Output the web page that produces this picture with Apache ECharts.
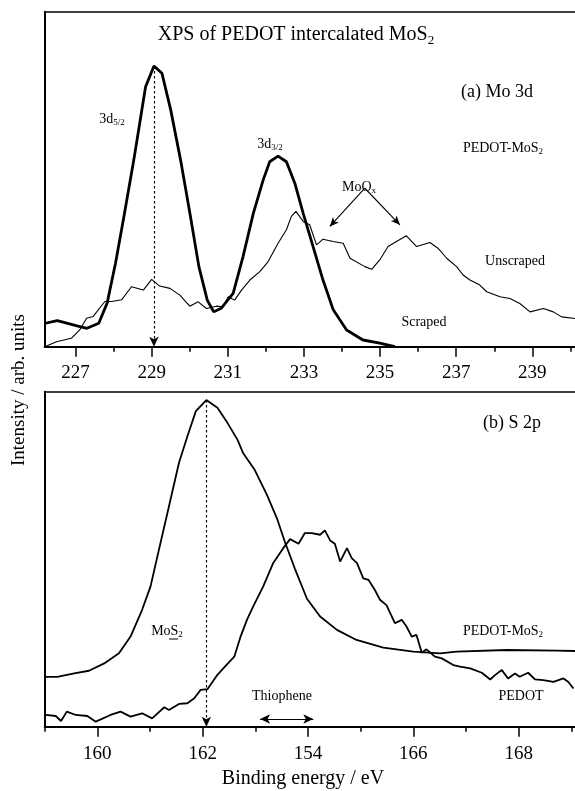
<!DOCTYPE html>
<html>
<head>
<meta charset="utf-8">
<script src="https://cdn.jsdelivr.net/npm/echarts@6/dist/echarts.min.js"></script>
<style>
html,body{margin:0;padding:0;background:#fff;}
#chart{width:575px;height:791px;}
</style>
</head>
<body>
<div id="chart"></div>
<script>
// ---- Panel (a) Mo 3d ----
const topTickValues = [227, 229, 231, 233, 235, 237, 239];
const topMinorTicks = [228, 230, 232, 234, 236, 238, 240];
const scrapedX = [226.21,226.52,227.04,227.30,227.61,227.83,228.05,228.27,228.53,228.84,229.06,229.27,229.50,229.76,230.02,230.24,230.46,230.63,230.83,231.14,231.40,231.67,231.93,232.10,232.32,232.54,232.76,232.98,233.24,233.50,233.77,234.12,234.55,234.99,235.39];
const scrapedY = [7.0,7.8,6.2,5.5,7.0,13.0,24.9,38.8,55.7,77.6,83.8,81.6,70.7,55.7,38.8,23.9,13.9,10.4,11.5,15.9,26.9,39.8,49.8,55.2,56.9,55.2,48.8,39.8,29.9,19.9,11.0,5.0,2.0,1.1,0];
const unscrapedX = [226.19,226.50,226.89,227.11,227.29,227.46,227.77,227.95,228.21,228.47,228.78,229.00,229.21,229.48,229.74,230.00,230.22,230.44,230.70,230.88,231.01,231.18,231.36,231.58,231.84,232.06,232.32,232.54,232.67,232.79,232.98,233.15,233.33,233.50,233.77,234.03,234.21,234.60,234.78,234.99,235.21,235.43,235.69,235.96,236.31,236.52,236.75,237.01,237.18,237.36,237.62,237.80,238.15,238.41,238.67,238.94,239.29,239.55,239.77,240.12];
const unscrapedY = [0,1.5,2.5,5.0,8.5,9.0,13.5,13.5,14.0,17.9,16.9,20.1,18.1,17.4,15.4,12.1,13.4,11.4,12.1,11.9,14.9,13.9,16.9,19.9,22.4,25.4,30.9,34.9,38.9,40.4,37.4,36.4,30.4,32.1,31.4,30.9,26.4,23.9,23.1,25.9,29.9,31.4,33.1,29.9,31.1,29.4,26.4,23.9,21.4,19.9,18.4,16.4,14.9,14.4,12.9,10.4,11.4,10.4,8.9,8.4];

// ---- Panel (b) S 2p ----
const botTickValues = [160, 162, 164, 166, 168];
const botTickLabels = ['160', '162', '154', '166', '168'];
const botMinorTicks = [159, 161, 163, 165, 167, 169];
const pedotMosX = [159.02,159.24,159.56,159.84,160.13,160.41,160.63,160.85,161.01,161.17,161.36,161.55,161.71,161.87,162.07,162.28,162.47,162.66,162.77,162.99,163.22,163.41,163.56,163.75,163.98,164.23,164.55,164.92,165.43,166.00,166.51,166.82,167.77,168.72,169.07];
const pedotMosY = [14.9,14.9,15.9,16.7,18.9,21.9,26.9,34.9,41.9,52.9,65.8,78.8,86.7,94.2,97.5,95.2,90.7,85.7,81.6,76.6,69.2,62.2,55.2,47.2,38.2,32.9,28.9,25.9,23.6,22.4,21.9,22.4,22.9,22.7,22.6];
const pedotX = [159.02,159.21,159.31,159.42,159.59,159.81,159.97,160.25,160.44,160.63,160.85,161.04,161.27,161.36,161.55,161.71,161.84,161.96,162.09,162.28,162.44,162.60,162.72,162.84,162.96,163.15,163.34,163.53,163.66,163.82,163.94,164.07,164.23,164.32,164.42,164.51,164.61,164.74,164.83,164.93,165.05,165.15,165.27,165.37,165.49,165.65,165.78,165.87,165.97,166.06,166.16,166.25,166.41,166.54,166.76,166.89,167.08,167.30,167.46,167.55,167.68,167.80,167.93,168.02,168.18,168.31,168.47,168.66,168.85,168.94,169.04];
const pedotY = [3.5,3.2,1.7,4.5,3.5,3.2,1.5,3.5,4.5,3.0,4.0,2.5,5.8,5.0,6.8,7.0,8.5,11.0,11.2,15.5,18.2,20.9,26.9,31.9,35.9,41.9,48.9,53.3,56.0,54.6,57.8,57.8,57.3,58.6,55.6,54.6,49.3,53.3,50.3,48.8,44.3,43.8,40.8,37.8,36.3,30.9,31.9,29.9,26.9,27.4,22.1,23.1,20.9,20.4,18.4,17.9,17.4,16.1,14.1,15.4,16.9,14.4,15.9,14.9,16.1,14.1,13.9,13.4,14.4,13.4,11.4];

// annotation anchors (data coordinates)
const mo5Peak = [229.06, 83.8];
const s2pPeak = [162.07, 97.5];
const moOxFrom = [234.60, 47.3];
const moOxTo = [[233.68, 35.9], [235.52, 36.4]];
const thiopheneRange = [163.09, 164.10, 2.3];

const zip = (xs, ys) => xs.map((x, i) => [x, ys[i]]);
const FONT = 'Liberation Serif, Times New Roman, serif';
const BLACK = '#000';

function mainX(grid, min, max, ticks, labels, margin) {
  return {
    type: 'value', gridIndex: grid, min: min, max: max, position: 'bottom',
    axisLine: { show: true, onZero: false, lineStyle: { color: BLACK, width: 2 } },
    axisTick: { show: true, customValues: ticks, length: 10, lineStyle: { color: BLACK, width: 1.5 } },
    axisLabel: {
      show: true, customValues: ticks, margin: margin, color: BLACK, fontFamily: FONT, fontSize: 19,
      formatter: v => labels ? labels[ticks.indexOf(Math.round(v))] : String(Math.round(v))
    },
    splitLine: { show: false }
  };
}
function minorX(grid, min, max, ticks) {
  return {
    type: 'value', gridIndex: grid, min: min, max: max, position: 'bottom',
    axisLine: { show: false },
    axisTick: { show: true, customValues: ticks, length: 5, lineStyle: { color: BLACK, width: 1.5 } },
    axisLabel: { show: false }, splitLine: { show: false }
  };
}
function borderX(grid, min, max) {
  return {
    type: 'value', gridIndex: grid, min: min, max: max, position: 'top',
    axisLine: { show: true, onZero: false, lineStyle: { color: BLACK, width: 1.5 } },
    axisTick: { show: false }, axisLabel: { show: false }, splitLine: { show: false }
  };
}
function yAx(grid) {
  return {
    type: 'value', gridIndex: grid, min: 0, max: 100,
    axisLine: { show: true, onZero: false, lineStyle: { color: BLACK, width: 2 } },
    axisTick: { show: false }, axisLabel: { show: false }, splitLine: { show: false }
  };
}

const arrowLine = (from, to, dashed, sym) => ({
  silent: true, animation: false,
  symbol: sym, symbolSize: [7, 10],
  label: { show: false },
  lineStyle: { color: BLACK, width: 1.2, type: dashed ? [2.5, 2.5] : 'solid' },
  emphasis: { disabled: true },
  data: [[{ coord: from }, { coord: to }]]
});

const subRich = (size) => ({
  s: { fontFamily: FONT, fontSize: Math.round(size * 0.65), color: BLACK, padding: [Math.round(size * 0.55), 0, 0, 0] }
});
function txt(text, x, y, size, extra) {
  return Object.assign({
    type: 'text', x: x, y: y, silent: true,
    style: {
      text: text, fill: BLACK, font: size + 'px ' + FONT,
      fontFamily: FONT, fontSize: size,
      textAlign: 'center', textVerticalAlign: 'middle', rich: subRich(size)
    }
  }, extra || {});
}

const chart = echarts.init(document.getElementById('chart'));
chart.setOption({
  animation: false,
  backgroundColor: '#fff',
  grid: [
    { left: 44.7, right: 0, top: 11.7, height: 335 },
    { left: 44.7, right: 0, top: 391.7, height: 335 }
  ],
  xAxis: [
    mainX(0, 226.19, 240.12, topTickValues, null, 17),
    minorX(0, 226.19, 240.12, topMinorTicks),
    borderX(0, 226.19, 240.12),
    mainX(1, 159.0, 169.07, botTickValues, botTickLabels, 18),
    minorX(1, 159.0, 169.07, botMinorTicks),
    borderX(1, 159.0, 169.07)
  ],
  yAxis: [yAx(0), yAx(1)],
  series: [
    {
      name: 'Scraped', type: 'line', xAxisIndex: 0, yAxisIndex: 0, data: zip(scrapedX, scrapedY),
      symbol: 'none', lineStyle: { color: BLACK, width: 2.8 },
      markLine: arrowLine(mo5Peak, [mo5Peak[0], 0], true, ['none', 'arrow'])
    },
    {
      name: 'Unscraped', type: 'line', xAxisIndex: 0, yAxisIndex: 0, data: zip(unscrapedX, unscrapedY),
      symbol: 'none', lineStyle: { color: BLACK, width: 1.1 },
      markLine: {
        silent: true, animation: false, symbol: ['none', 'arrow'], symbolSize: [6, 9],
        label: { show: false }, lineStyle: { color: BLACK, width: 1.1, type: 'solid' },
        data: moOxTo.map(t => [{ coord: moOxFrom }, { coord: t }])
      }
    },
    {
      name: 'PEDOT-MoS2', type: 'line', xAxisIndex: 3, yAxisIndex: 1, data: zip(pedotMosX, pedotMosY),
      symbol: 'none', lineStyle: { color: BLACK, width: 1.8 },
      markLine: arrowLine(s2pPeak, [s2pPeak[0], 0], true, ['none', 'arrow'])
    },
    {
      name: 'PEDOT', type: 'line', xAxisIndex: 3, yAxisIndex: 1, data: zip(pedotX, pedotY),
      symbol: 'none', lineStyle: { color: BLACK, width: 1.8 },
      markLine: arrowLine([thiopheneRange[0], thiopheneRange[2]], [thiopheneRange[1], thiopheneRange[2]], false, ['arrow', 'arrow'])
    }
  ],
  graphic: [
    txt('XPS of PEDOT intercalated MoS{s|2}', 296, 35, 20),
    txt('(a) Mo 3d', 497, 92, 18),
    txt('PEDOT-MoS{s|2}', 503, 148, 14),
    txt('3d{s|5/2}', 112, 119, 14),
    txt('3d{s|3/2}', 270, 144, 14),
    txt('MoO{s|x}', 359, 187, 14),
    txt('Unscraped', 515, 261, 14),
    txt('Scraped', 424, 322, 14),
    txt('(b) S 2p', 512, 423, 18),
    txt('MoS{s|2}', 167, 631, 14),
    { type: 'line', silent: true, shape: { x1: 169, y1: 639, x2: 178, y2: 639 }, style: { stroke: BLACK, lineWidth: 1 } },
    txt('PEDOT-MoS{s|2}', 503, 631, 14),
    txt('Thiophene', 282, 696, 14),
    txt('PEDOT', 521, 696, 14),
    txt('Binding energy / eV', 303, 779, 20),
    txt('Intensity / arb. units', 19, 390, 19, { rotation: Math.PI / 2 })
  ]
});
</script>
</body>
</html>
